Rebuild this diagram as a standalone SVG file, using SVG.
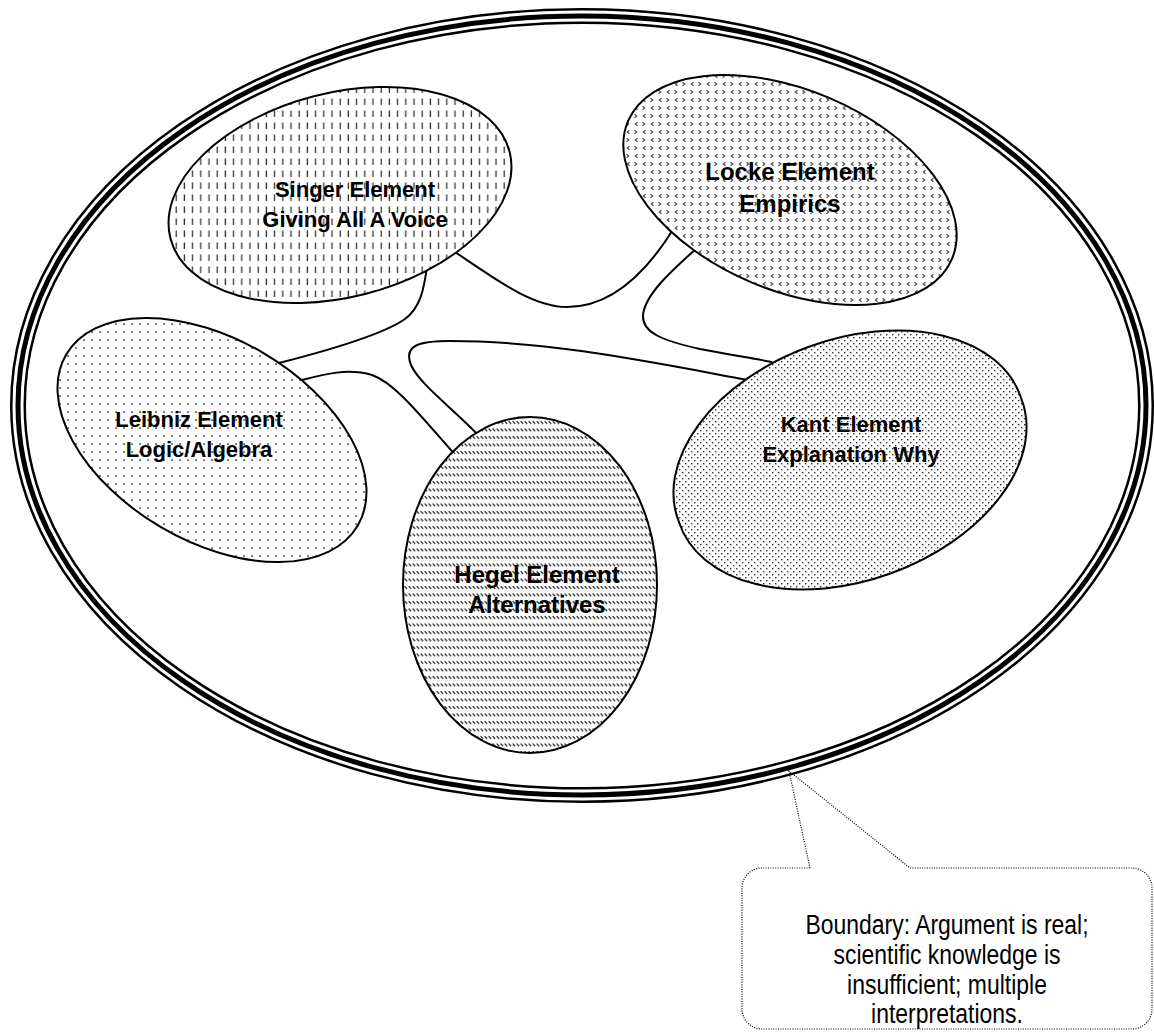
<svg xmlns="http://www.w3.org/2000/svg" width="1154" height="1032" viewBox="0 0 1154 1032">
<style>
.node{stroke:#000;stroke-width:2}
.conn{fill:none;stroke:#000;stroke-width:2}
.lbl{font-family:"Liberation Sans",Arial,sans-serif;font-weight:bold;text-anchor:middle;fill:#000}
.note{font-family:"Liberation Sans",Arial,sans-serif;font-size:27px;text-anchor:middle;fill:#000}
.dot{fill:none;stroke:#000;stroke-width:1.2;stroke-dasharray:1 1.4}
</style>
<defs>
<pattern id="pSinger" patternUnits="userSpaceOnUse" width="8.2" height="12">
<rect width="8.2" height="12" fill="#fff"/>
<line x1="4" y1="2.5" x2="4" y2="9" stroke="#333" stroke-width="1.3"/>
</pattern>
<pattern id="pLocke" patternUnits="userSpaceOnUse" width="16" height="16">
<rect width="16" height="16" fill="#fff"/>
<polyline points="5.5,2.3 3.3,4 5.5,5.7" fill="none" stroke="#444" stroke-width="1.1"/>
<polyline points="10.5,2.3 12.7,4 10.5,5.7" fill="none" stroke="#444" stroke-width="1.1"/>
<polyline points="2.5,10.3 4.7,12 2.5,13.7" fill="none" stroke="#444" stroke-width="1.1"/>
<polyline points="13.5,10.3 11.3,12 13.5,13.7" fill="none" stroke="#444" stroke-width="1.1"/>
</pattern>
<pattern id="pLeibniz" patternUnits="userSpaceOnUse" width="8" height="8">
<rect width="8" height="8" fill="#fff"/>
<rect x="3.3" y="3.3" width="1.5" height="1.5" fill="#222"/>
</pattern>
<pattern id="pKant" patternUnits="userSpaceOnUse" width="6" height="6">
<rect width="6" height="6" fill="#fff"/>
<rect x="1" y="1" width="1.4" height="1.4" fill="#333"/>
<rect x="4" y="4" width="1.4" height="1.4" fill="#333"/>
</pattern>
<pattern id="pHegel" patternUnits="userSpaceOnUse" width="4" height="7.5">
<rect width="4" height="7.5" fill="#fff"/>
<line x1="0.6" y1="1.2" x2="3.2" y2="3.8" stroke="#222" stroke-width="1.2"/>
</pattern>
</defs>
<rect width="1154" height="1032" fill="#fff"/>

<g id="boundary">
<ellipse cx="582" cy="405.5" rx="564" ry="389.5" fill="none" stroke="#000" stroke-width="16"/>
<ellipse cx="582" cy="405.5" rx="564" ry="389.5" fill="none" stroke="#fff" stroke-width="11"/>
<ellipse cx="582" cy="405.5" rx="564" ry="389.5" fill="none" stroke="#000" stroke-width="5"/>
</g>

<g id="connectors">
<path class="conn" d="M427,266 C424,290 420,308 405,319 C385,333 330,350 279,363"/>
<path class="conn" d="M449,248 C490,275 530,307 567,307 C610,307 645,275 674,228"/>
<path class="conn" d="M302,380 C325,374 348,368 372,375 C395,383 420,415 457,457"/>
<path class="conn" d="M481,438 C455,410 420,385 411,365 C403,345 420,341 450,341 C550,341 650,362 748,380"/>
<path class="conn" d="M697,248 C670,272 645,295 643,315 C642,332 660,340 700,349 C725,354 745,357 772,362"/>
</g>

<g id="singer">
<path class="node" fill="url(#pSinger)" d="M170.4,238.2 A175,102 -14.3 1 1 509.6,151.8 A175,102 -14.3 1 1 170.4,238.2 Z"/>
<text class="lbl" font-size="22" x="355" y="197">Singer Element</text>
<text class="lbl" font-size="22" x="355" y="227">Giving All A Voice</text>
</g>

<g id="locke">
<path class="node" fill="url(#pLocke)" d="M628,121.2 A176,100 23 1 1 952,258.8 A176,100 23 1 1 628,121.2 Z"/>
<text class="lbl" font-size="24" x="790" y="180">Locke Element</text>
<text class="lbl" font-size="24" x="790" y="212">Empirics</text>
</g>

<g id="leibniz">
<path class="node" fill="url(#pLeibniz)" d="M66.2,354.5 A169,101 30.4 1 1 357.8,525.5 A169,101 30.4 1 1 66.2,354.5 Z"/>
<text class="lbl" font-size="22" x="199" y="427">Leibniz Element</text>
<text class="lbl" font-size="22" x="199" y="457">Logic/Algebra</text>
</g>

<g id="kant">
<path class="node" stroke-width="1.5" fill="url(#pKant)" d="M679,522.2 A182,118 -20 1 1 1021,397.8 A182,118 -20 1 1 679,522.2 Z"/>
<text class="lbl" font-size="22" x="851" y="432">Kant Element</text>
<text class="lbl" font-size="22" x="851" y="462">Explanation Why</text>
</g>

<g id="hegel">
<ellipse class="node" fill="url(#pHegel)" cx="530" cy="585" rx="127" ry="168"/>
<text class="lbl" font-size="24" x="537" y="583">Hegel Element</text>
<text class="lbl" font-size="24" x="537" y="613">Alternatives</text>
</g>

<g id="callout">
<path class="dot" d="M810,868 L789,771 L910,868 H1132 A20,20 0 0 1 1152,888 V1009 A20,20 0 0 1 1132,1029 H762 A20,20 0 0 1 742,1009 V888 A20,20 0 0 1 762,868 Z"/>
<g transform="translate(947,0) scale(0.85,1)">
<text class="note" x="0" y="934">Boundary: Argument is real;</text>
<text class="note" x="0" y="964">scientific knowledge is</text>
<text class="note" x="0" y="994">insufficient; multiple</text>
<text class="note" x="0" y="1023">interpretations.</text>
</g>
</g>
</svg>
